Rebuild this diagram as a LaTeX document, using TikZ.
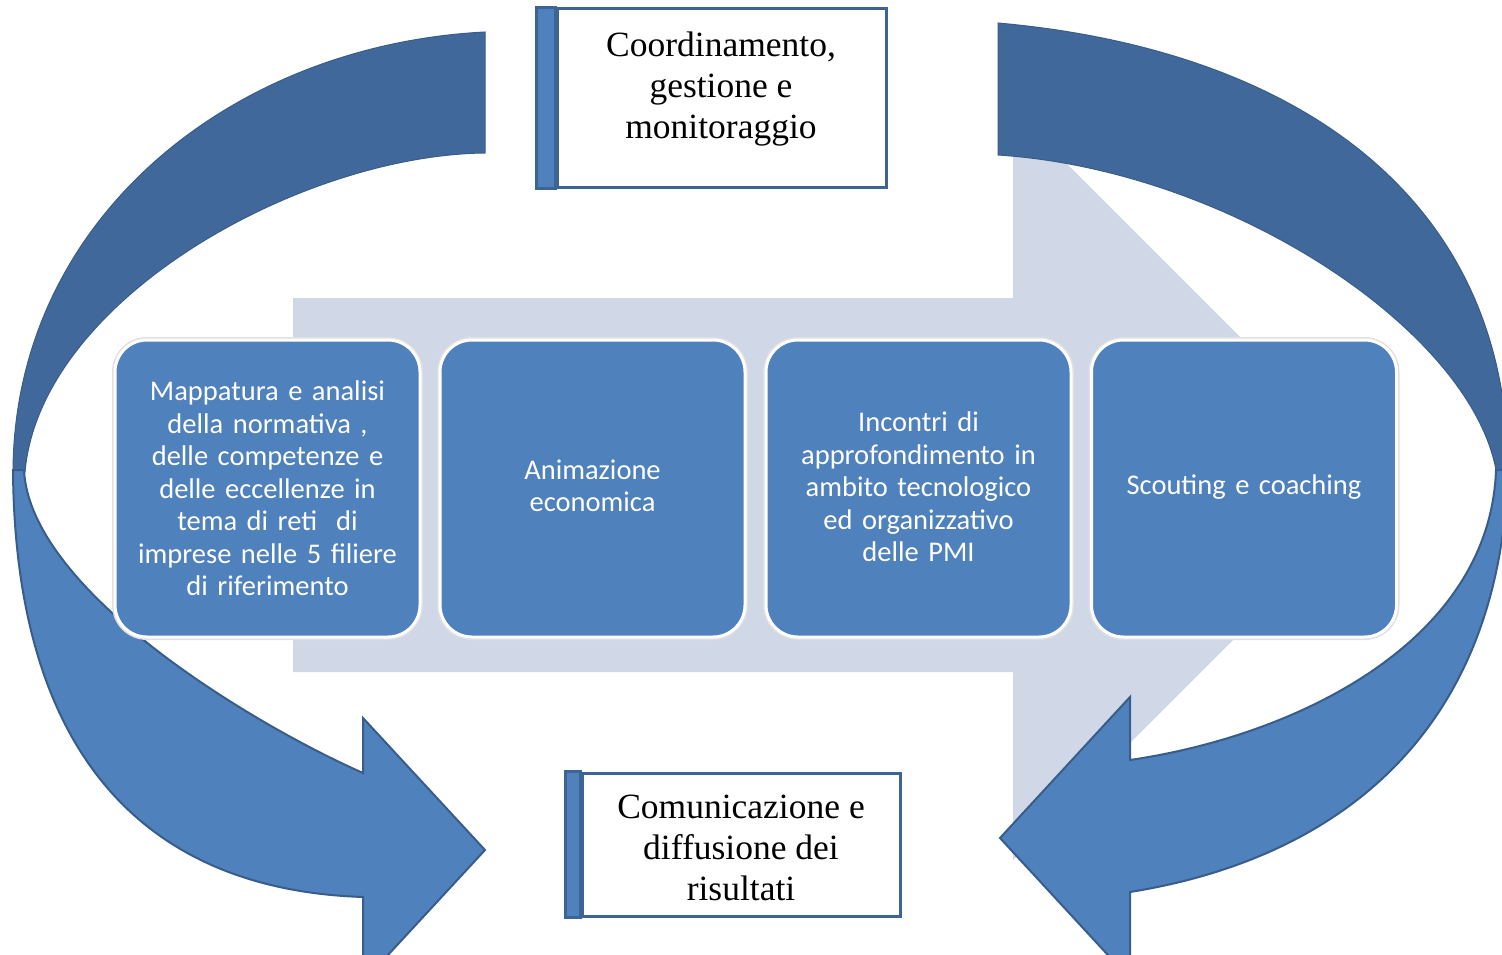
\documentclass[tikz,border=0pt]{standalone}
\usepackage{fontspec}
\setmainfont{Liberation Serif}
\newfontfamily\boxfont[WordSpace=0.85]{Carlito}
\definecolor{bgarrow}{HTML}{D0D8E8}
\definecolor{backband}{HTML}{41689A}
\definecolor{frontband}{HTML}{4F81BD}
\definecolor{bandedge}{HTML}{385D8A}
\definecolor{boxblue}{HTML}{4F81BD}
\definecolor{frameblue}{HTML}{3C6494}
\begin{document}
\begin{tikzpicture}[x=1pt,y=-1pt,
  stepbox/.style={rounded corners=32pt, fill=boxblue, draw=white, line width=3pt,
    preaction={draw=black!12, line width=6pt},
    minimum width=305pt, minimum height=297pt, text width=290pt, align=center,
    text=white, font=\boxfont\fontsize{28.5}{32.5}\selectfont, inner sep=0pt},
  frame/.style={draw=frameblue, line width=3pt, fill=white, inner sep=0pt},
  sidebar/.style={draw=frameblue, line width=3pt, fill=boxblue},
  frametext/.style={align=center, font=\fontsize{35.5}{41}\selectfont, inner sep=0pt},
  backbandstyle/.style={fill=backband, draw=bandedge, line width=1pt},
  frontbandstyle/.style={fill=frontband, draw=bandedge, line width=2pt, line join=miter}
]
\useasboundingbox (0,0) rectangle (1502,955);
\fill[white] (0,0) rectangle (1502,955);
\clip (0,0) rectangle (1502,955);

% light background arrow
\fill[bgarrow] (293,298) -- (1013,298) -- (1013,110) -- (1388,485) -- (1013,860)
  -- (1013,672) -- (293,672) -- cycle;

% back (upper) bands
\path[backbandstyle] (485,32) .. controls (230,45) and (15,220) .. (13,470)
  -- (25,472) .. controls (40,300) and (300,155) .. (485,153) -- cycle;
\path[backbandstyle] (998,23) .. controls (1300,50) and (1508,200) .. (1508,470)
  -- (1496,470) .. controls (1470,330) and (1230,170) .. (998,155) -- cycle;

% front (lower) bands with heads
\path[frontbandstyle] (13,470) .. controls (15,760) and (150,890) .. (363,897)
  -- (363,982) -- (485,850) -- (363,718) -- (363,773)
  .. controls (250,723) and (30,590) .. (24,470) -- cycle;
\path[frontbandstyle] (1508,470) .. controls (1500,740) and (1330,860) .. (1130,892)
  -- (1130,979) -- (1000,838) -- (1130,697) -- (1130,760)
  .. controls (1300,735) and (1490,640) .. (1496,470) -- cycle;

% process boxes
\node[stepbox] (s1) at (267.5,488.5) {Mappatura e analisi\\della normativa ,\\delle competenze e\\delle eccellenze in\\tema di reti\ \ di\\imprese nelle 5 filiere\\di riferimento};
\node[stepbox] (s2) at (592.5,488.5) {Animazione\\economica\vspace*{5pt}};
\node[stepbox] (s3) at (918.5,488.5) {Incontri di\\approfondimento in\\ambito tecnologico\\ed organizzativo\\delle PMI\vspace*{3pt}};
\node[stepbox] (s4) at (1244,488.5) {Scouting e coaching\vspace*{3pt}};

% top frame
\node[frame, minimum width=329pt, minimum height=178pt] (coord) at (721.5,98) {};
\path[sidebar] (coord.north west) rectangle ([xshift=-19pt]coord.south west);
\node[frametext] (coordtxt) at (721,89) {Coordinamento,\\gestione e\\monitoraggio};

% bottom frame
\node[frame, minimum width=318pt, minimum height=143pt] (comm) at (741,844.5) {};
\path[sidebar] (comm.north west) rectangle ([xshift=-15pt]comm.south west);
\node[frametext] (commtxt) at (741,848) {Comunicazione e\\diffusione dei\\risultati};
\end{tikzpicture}
\end{document}
